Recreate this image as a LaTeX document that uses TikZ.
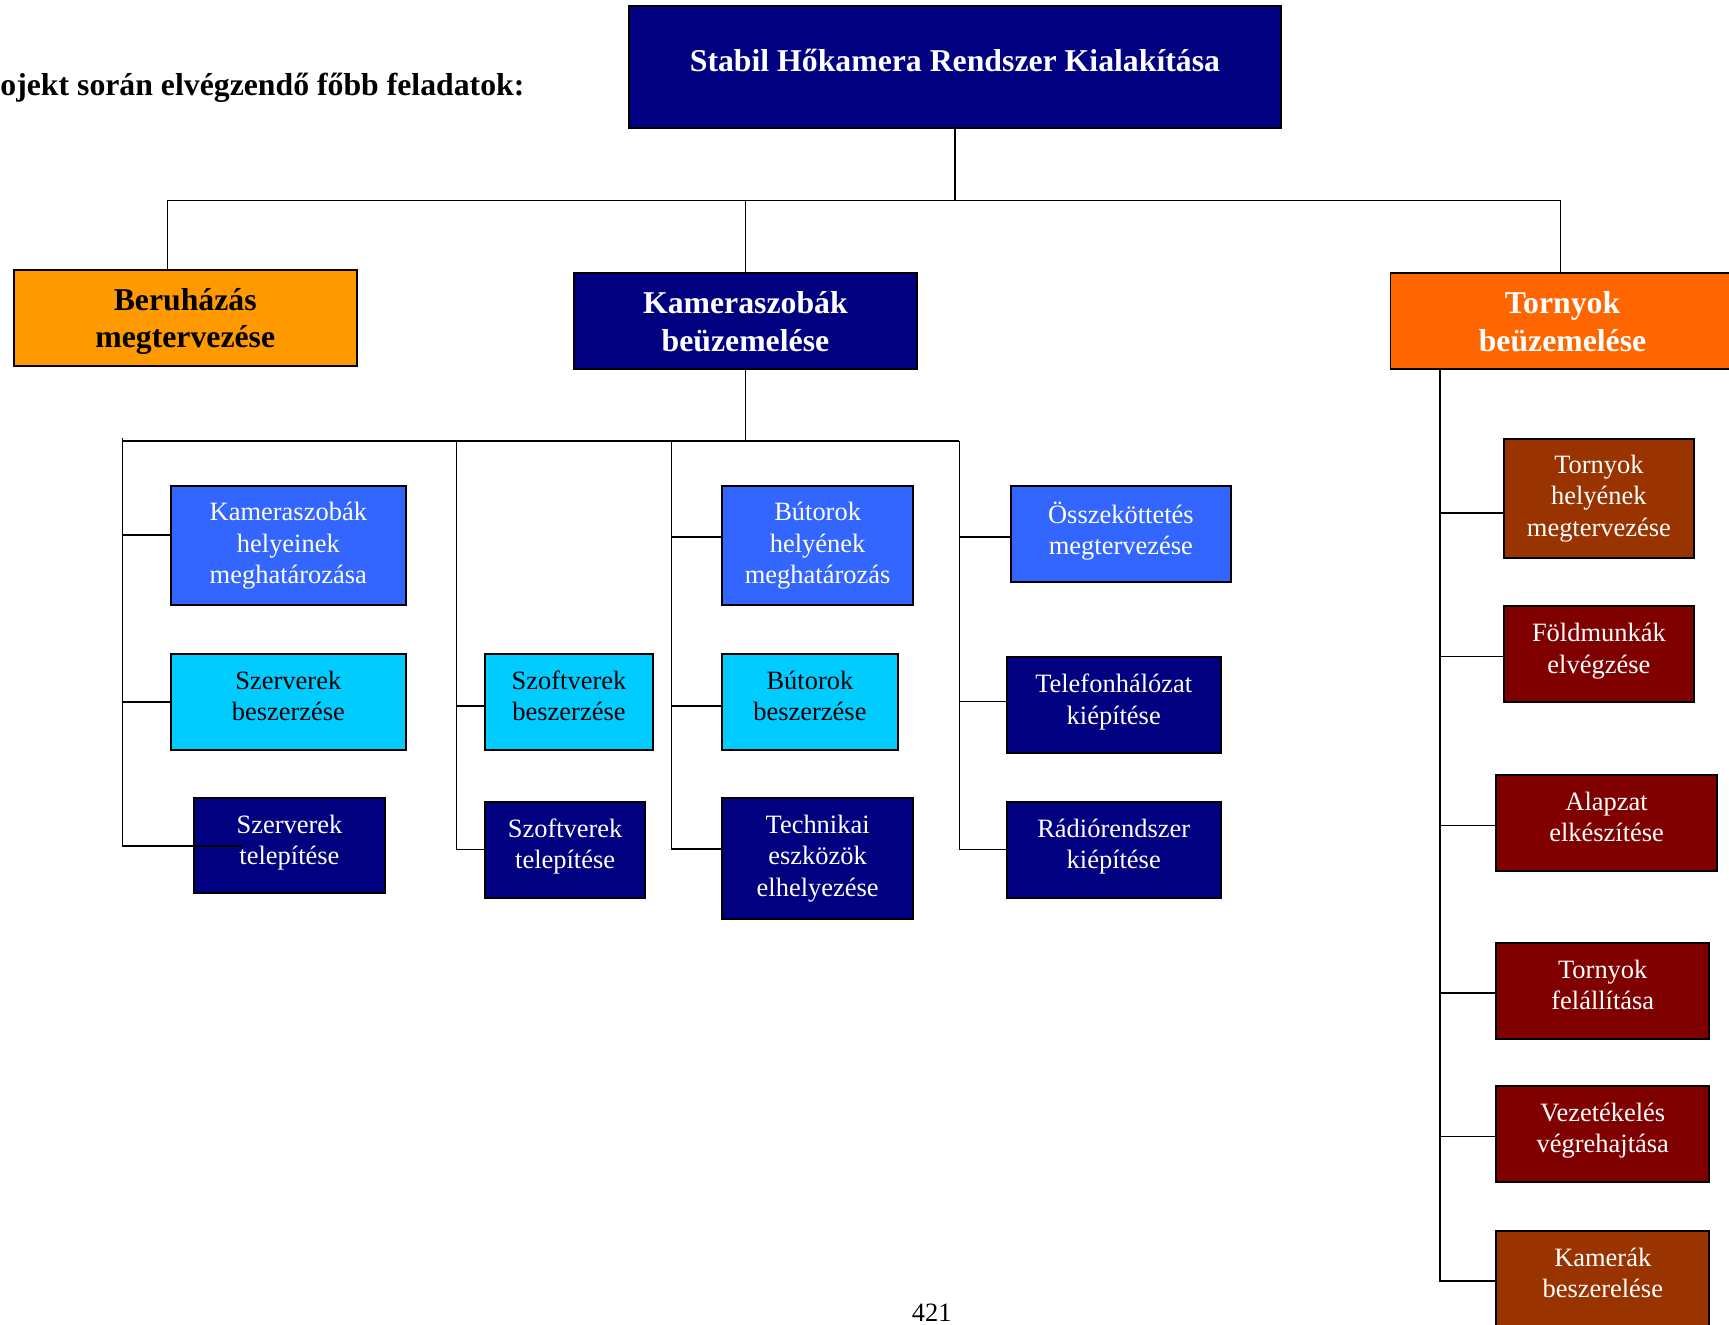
\documentclass[tikz,border=0pt]{standalone}
\usepackage{fontspec}
\setmainfont{Liberation Serif}
\usepackage{xcolor}
\usepackage{tikz}

\definecolor{sotetkek}{HTML}{000080}
\definecolor{kek}{HTML}{3366FF}
\definecolor{cian}{HTML}{00CCFF}
\definecolor{sarga}{HTML}{FF9900}
\definecolor{narancs}{HTML}{FF6600}
\definecolor{barna}{HTML}{993300}
\definecolor{bordo}{HTML}{800000}

\begin{document}
\begin{tikzpicture}[x=0.5pt, y=-0.5pt,
rootbox/.style={rectangle, draw=black, line width=0.9pt, fill=sotetkek, text=white, font=\bfseries\fontsize{14.4}{17}\selectfont, align=center, text height=12pt, text depth=8pt},
phasebox/.style={rectangle, draw=black, line width=0.9pt, font=\bfseries\fontsize{14.4}{17}\selectfont, align=center, minimum width=155.5pt, minimum height=43.5pt, text depth=0pt},
taskbox/.style={rectangle, draw=black, line width=0.9pt, font=\fontsize{12}{14.25}\selectfont, align=center, minimum height=43.5pt, text depth=5.5pt},
threeline/.style={minimum height=54pt, text depth=2.5pt},
planbox/.style={taskbox, fill=kek, text=white},
buybox/.style={taskbox, fill=cian},
setupbox/.style={taskbox, fill=sotetkek, text=white},
towerbox/.style={taskbox, fill=bordo, text=white},
link/.style={line width=0.7pt}
]
	\useasboundingbox (0,0) rectangle (1568,1201);

	\node[anchor=base west, inner sep=0pt, font=\bfseries\fontsize{14.4}{17}\selectfont] (cim) at (0,87) {ojekt során elvégzendő főbb feladatok:};
	\node[rootbox, minimum width=296pt, minimum height=55.5pt] (n0) at (866,60.5) {Stabil Hőkamera Rendszer Kialakítása};

	\node[phasebox, fill=sarga] (n1) at (168,288.5) {Beruházás\\megtervezése};
	\node[phasebox, fill=sotetkek, text=white] (n2) at (676,291.5) {Kameraszobák\\beüzemelése};
	\node[phasebox, fill=narancs, text=white, minimum width=156pt] (n3) at (1417,291.5) {Tornyok\\beüzemelése};

	% kameraszobak
	\node[planbox, threeline, minimum width=106.5pt] (k1) at (261.5,495) {Kameraszobák\\helyeinek\\meghatározása};
	\node[buybox, minimum width=106.5pt] (k2) at (261.5,636.5) {Szerverek\\beszerzése};
	\node[setupbox, minimum width=86.5pt, minimum height=43pt] (k3) at (262.5,767) {Szerverek\\telepítése};
	\node[buybox, minimum width=76pt] (k4) at (516,636.5) {Szoftverek\\beszerzése};
	\node[setupbox, minimum width=72.5pt] (k5) at (512.5,770.5) {Szoftverek\\telepítése};
	\node[planbox, threeline, minimum width=86.5pt] (k6) at (741.5,495) {Bútorok\\helyének\\meghatározás};
	\node[buybox, minimum width=79.5pt] (k7) at (734.5,636.5) {Bútorok\\beszerzése};
	\node[setupbox, threeline, minimum width=86.5pt, minimum height=54.5pt] (k8) at (741.5,778.5) {Technikai\\eszközök\\elhelyezése};
	\node[planbox, minimum width=99.5pt] (k9) at (1016.5,484.5) {Összeköttetés\\megtervezése};
	\node[setupbox, minimum width=97pt] (k10) at (1010,639.5) {Telefonhálózat\\kiépítése};
	\node[setupbox, minimum width=97pt] (k11) at (1010,770.5) {Rádiórendszer\\kiépítése};

	% tornyok
	\node[towerbox, threeline, fill=barna, minimum width=86pt] (t1) at (1450,452) {Tornyok\\helyének\\megtervezése};
	\node[towerbox, minimum width=86pt] (t2) at (1450,593.5) {Földmunkák\\elvégzése};
	\node[towerbox, minimum width=100pt] (t3) at (1457,746.5) {Alapzat\\elkészítése};
	\node[towerbox, minimum width=96.5pt] (t4) at (1453.5,898.5) {Tornyok\\felállítása};
	\node[towerbox, minimum width=96.5pt] (t5) at (1453.5,1028.5) {Vezetékelés\\végrehajtása};
	\node[towerbox, fill=barna, minimum width=96.5pt] (t6) at (1453.5,1159.5) {Kamerák\\beszerelése};

	\node[anchor=base, inner sep=0pt, font=\fontsize{12}{14}\selectfont] (oldal) at (845,1198) {421};

	\coordinate (j0) at (866,182);
	\coordinate (j1) at (676,400);
	\coordinate (b1) at (111,400);
	\coordinate (b2) at (414,400);
	\coordinate (b3) at (609,400);
	\coordinate (b4) at (870,400);
	\coordinate (c1) at ([xshift=23pt]n3.south west);

	\draw[link] (n0.south) -- (j0);
	\draw[link] (j0) -| ([xshift=-8pt]n1.north);
	\draw[link] (j0) -| (n2.north);
	\draw[link] (j0) -| ([xshift=-1pt]n3.north);

	\draw[link] (n2.south) -- (j1);
	\draw[link] ([yshift=1.5pt]b1) -- (b1) -- (b4);
	\draw[link] (b1) |- ([xshift=22pt]k3.west);
	\draw[link] (b2) |- (k5.west);
	\draw[link] (b3) |- ([yshift=4.25pt]k8.west);
	\draw[link] (b4) |- (k11.west);
	\draw[link] ([yshift=5pt]k1.west) -- ([yshift=5pt]k1.west -| b1);
	\draw[link] (k2.west) -- (k2.west -| b1);
	\draw[link] ([yshift=-1.75pt]k4.west) -- ([yshift=-1.75pt]k4.west -| b2);
	\draw[link] ([yshift=4pt]k6.west) -- ([yshift=4pt]k6.west -| b3);
	\draw[link] ([yshift=-1.75pt]k7.west) -- ([yshift=-1.75pt]k7.west -| b3);
	\draw[link] ([yshift=-1.25pt]k9.west) -- ([yshift=-1.25pt]k9.west -| b4);
	\draw[link] ([yshift=1.75pt]k10.west) -- ([yshift=1.75pt]k10.west -| b4);

	\draw[link] (c1) |- ([yshift=-1pt]t6.west);
	\draw[link] ([yshift=-6.5pt]t1.west) -- ([yshift=-6.5pt]t1.west -| c1);
	\draw[link] ([yshift=-1pt]t2.west) -- ([yshift=-1pt]t2.west -| c1);
	\draw[link] ([yshift=-1pt]t3.west) -- ([yshift=-1pt]t3.west -| c1);
	\draw[link] ([yshift=-1pt]t4.west) -- ([yshift=-1pt]t4.west -| c1);
	\draw[link] ([yshift=-1pt]t5.west) -- ([yshift=-1pt]t5.west -| c1);
\end{tikzpicture}
\end{document}
